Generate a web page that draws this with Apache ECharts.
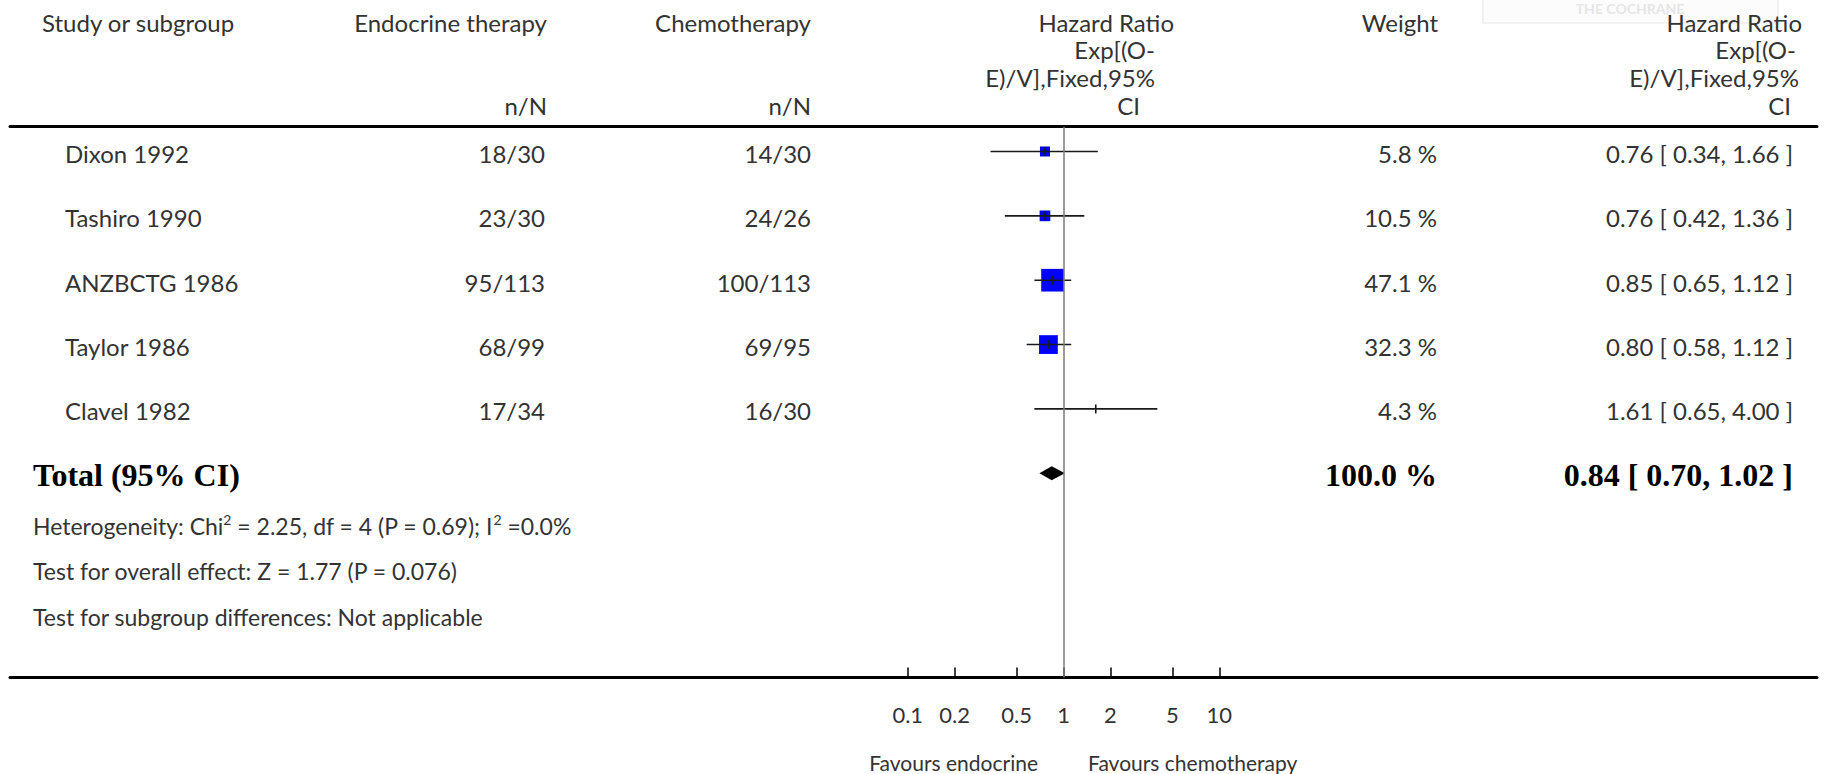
<!DOCTYPE html>
<html>
<head>
<meta charset="utf-8">
<title>Endocrine therapy vs chemotherapy – overall survival</title>
<script src="https://cdn.jsdelivr.net/npm/echarts@6/dist/echarts.min.js"></script>
<style>
  html, body { margin: 0; padding: 0; background: #ffffff; }
  #chart { width: 1824px; height: 774px; }
</style>
</head>
<body>
<div id="chart"></div>
<script>
// ---- Study data ----
const studies        = ['Dixon 1992', 'Tashiro 1990', 'ANZBCTG 1986', 'Taylor 1986', 'Clavel 1982'];
const endocrineEvents = ['18/30', '23/30', '95/113', '68/99', '17/34'];
const chemoEvents     = ['14/30', '24/26', '100/113', '69/95', '16/30'];
const hazardRatio     = [0.76, 0.76, 0.85, 0.80, 1.61];
const ciLower         = [0.34, 0.42, 0.65, 0.58, 0.65];
const ciUpper         = [1.66, 1.36, 1.12, 1.12, 4.00];
const weightPct       = [5.8, 10.5, 47.1, 32.3, 4.3];

// ---- Pooled estimate ----
const totalLabel  = 'Total (95% CI)';
const totalHR     = [0.84];
const totalLower  = [0.70];
const totalUpper  = [1.02];
const totalWeight = [100.0];

// ---- Footnotes ----
const footnotes = [
  'Heterogeneity: Chi{sup|2} = 2.25, df = 4 (P = 0.69); I{sup|2} =0.0%',
  'Test for overall effect: Z = 1.77 (P = 0.076)',
  'Test for subgroup differences: Not applicable'
];

// ---- Axis ticks (hazard ratio, log scale) ----
const tickValues = [0.1, 0.2, 0.5, 1, 2, 5, 10];
const tickLabels = ['0.1', '0.2', '0.5', '1', '2', '5', '10'];
const favourLabels = ['Favours endocrine', 'Favours chemotherapy'];

// ---- Styling / layout ----
const SANS = 'Lato, "Open Sans", sans-serif';
const SERIF = '"Liberation Serif", "DejaVu Serif", serif';
const TEXT = '#333333';
const COL = { study: 65, total: 33, endo: 545, chemo: 811, weight: 1437, ci: 1793 };
const ROW_TEXT_DY = 2;

const lg = v => Math.log10(v);
const fmt2 = v => v.toFixed(2);
const ciText = (hr, lo, hi) => fmt2(hr) + ' [ ' + fmt2(lo) + ', ' + fmt2(hi) + ' ]';

const chart = echarts.init(document.getElementById('chart'), null, { renderer: 'svg' });

// per-study forest mark: CI whisker, weight box, point tick
function renderStudy(params, api) {
  const yv = api.value(1);
  const c = api.coord([api.value(0), yv]);
  const l = api.coord([api.value(2), yv]);
  const h = api.coord([api.value(3), yv]);
  const w = api.value(4);
  const y = c[1];
  const children = [];
  if (w >= 5) {
    const s = Math.max(10, 3.3 * Math.sqrt(w));
    children.push({ type: 'rect', shape: { x: c[0] - s / 2, y: y - s / 2, width: s, height: s },
      style: { fill: '#0000ff' } });
  }
  children.push({ type: 'line', shape: { x1: l[0], y1: y, x2: h[0], y2: y },
    style: { stroke: '#1a1a1a', lineWidth: 1.6 } });
  children.push({ type: 'line', shape: { x1: c[0], y1: y - 4.5, x2: c[0], y2: y + 4.5 },
    style: { stroke: '#1a1a1a', lineWidth: 1.6 } });
  return { type: 'group', children };
}

// pooled diamond
function renderTotal(params, api) {
  const yv = api.value(1);
  const c = api.coord([api.value(0), yv]);
  const l = api.coord([api.value(2), yv]);
  const h = api.coord([api.value(3), yv]);
  const y = c[1];
  return { type: 'polygon',
    shape: { points: [[l[0], y], [c[0], y - 7], [h[0], y], [c[0], y + 7]] },
    style: { fill: '#000000' } };
}

function txt(x, y, text, align, font) {
  return { type: 'text', x, y,
    style: Object.assign({ text, align, verticalAlign: 'middle', fill: TEXT,
      fontFamily: SANS, fontSize: 24 }, font || {}) };
}

// table columns for study rows
function renderStudyText(params, api) {
  const i = params.dataIndex;
  const y = api.coord([0, api.value(1)])[1] + ROW_TEXT_DY;
  return { type: 'group', children: [
    txt(COL.study, y, studies[i], 'left'),
    txt(COL.endo, y, endocrineEvents[i], 'right'),
    txt(COL.chemo, y, chemoEvents[i], 'right'),
    txt(COL.weight, y, weightPct[i].toFixed(1) + ' %', 'right'),
    txt(COL.ci, y, ciText(hazardRatio[i], ciLower[i], ciUpper[i]), 'right')
  ] };
}

function renderTotalText(params, api) {
  const i = params.dataIndex;
  const y = api.coord([0, api.value(1)])[1] + ROW_TEXT_DY;
  const bold = { fontFamily: SERIF, fontWeight: 'bold', fontSize: 32, fill: '#000000' };
  return { type: 'group', children: [
    txt(COL.total, y, totalLabel, 'left', bold),
    txt(COL.weight, y, totalWeight[i].toFixed(1) + ' %', 'right', bold),
    txt(COL.ci, y, ciText(totalHR[i], totalLower[i], totalUpper[i]), 'right', bold)
  ] };
}

const studyData = studies.map((s, i) => [lg(hazardRatio[i]), i, lg(ciLower[i]), lg(ciUpper[i]), weightPct[i]]);
const totalRow = studies.length;
const totalData = totalHR.map((v, i) => [lg(v), totalRow + i, lg(totalLower[i]), lg(totalUpper[i])]);

const X_MIN = -6.762, X_MAX = 4.836;
const tickPos = tickValues.map(lg);
const tickFormatter = v => {
  const k = tickPos.findIndex(p => Math.abs(p - v) < 1e-6);
  return k >= 0 ? tickLabels[k] : '';
};

const headerFont = { fill: TEXT, fontFamily: SANS, fontSize: 24 };
function headerText(x, y, text, align) {
  return { type: 'text', x, y, style: Object.assign({ text, align, verticalAlign: 'middle' }, headerFont) };
}

const graphics = [
  // faint publisher mark in the top-right corner
  { type: 'rect', shape: { x: 1483, y: -12, width: 295, height: 35 },
    style: { fill: 'rgba(0,0,0,0.012)', stroke: '#eeeeee', lineWidth: 1.5 } },
  { type: 'text', x: 1630, y: 8, style: { text: 'THE COCHRANE', align: 'center', verticalAlign: 'middle',
    fill: '#e6e6e6', fontFamily: SANS, fontWeight: 'bold', fontSize: 14 } },

  headerText(42, 22, 'Study or subgroup', 'left'),
  headerText(547, 22, 'Endocrine therapy', 'right'),
  headerText(547, 105, 'n/N', 'right'),
  headerText(811, 22, 'Chemotherapy', 'right'),
  headerText(811, 105, 'n/N', 'right'),
  headerText(1174, 22, 'Hazard Ratio', 'right'),
  headerText(1155, 49.5, 'Exp[(O-', 'right'),
  headerText(1155, 77, 'E)/V],Fixed,95%', 'right'),
  headerText(1140, 105, 'CI', 'right'),
  headerText(1438, 22, 'Weight', 'right'),
  headerText(1802, 22, 'Hazard Ratio', 'right'),
  headerText(1796, 49.5, 'Exp[(O-', 'right'),
  headerText(1799, 77, 'E)/V],Fixed,95%', 'right'),
  headerText(1791, 105, 'CI', 'right'),

  { type: 'text', x: 1038, y: 762, style: { text: favourLabels[0], align: 'right', verticalAlign: 'middle',
    fill: TEXT, fontFamily: SANS, fontSize: 21 } },
  { type: 'text', x: 1088, y: 762, style: { text: favourLabels[1], align: 'left', verticalAlign: 'middle',
    fill: TEXT, fontFamily: SANS, fontSize: 21 } }
];
const footY = [526, 571, 617];
footnotes.forEach((t, k) => {
  graphics.push({ type: 'text', x: 33, y: footY[k], style: {
    text: t, align: 'left', verticalAlign: 'middle', fill: TEXT, fontFamily: SANS, fontSize: 23,
    rich: { sup: { fontSize: 14, fill: TEXT, fontFamily: SANS, verticalAlign: 'top', lineHeight: 28 } }
  } });
});

const option = {
  backgroundColor: '#ffffff',
  animation: false,
  grid: { left: 10, right: 7, top: 126.7, bottom: 96.5, containLabel: false, outerBoundsMode: 'none' },
  xAxis: [
    {
      type: 'value', position: 'bottom', min: X_MIN, max: X_MAX,
      axisLine: { show: true, onZero: false, lineStyle: { color: '#000000', width: 3 } },
      axisTick: { show: true, inside: true, length: 10, customValues: tickPos,
        lineStyle: { color: '#000000', width: 1.5 } },
      axisLabel: { show: true, customValues: tickPos, formatter: tickFormatter, margin: 26,
        color: TEXT, fontFamily: SANS, fontSize: 22 },
      splitLine: { show: false }
    },
    {
      type: 'value', position: 'top', min: X_MIN, max: X_MAX,
      axisLine: { show: true, onZero: false, lineStyle: { color: '#000000', width: 3 } },
      axisTick: { show: false }, axisLabel: { show: false }, splitLine: { show: false }
    }
  ],
  yAxis: {
    type: 'value', inverse: true, min: -0.385, max: 8.173, show: false,
    splitLine: { show: false }
  },
  graphic: graphics,
  series: [
    {
      name: 'Studies', type: 'custom', data: studyData, renderItem: renderStudy,
      encode: { x: 0, y: 1 }, z: 3,
      markLine: {
        silent: true, symbol: 'none', label: { show: false },
        lineStyle: { color: '#7a7a7a', width: 1.5, type: 'solid' },
        data: [{ xAxis: 0 }]
      }
    },
    { name: 'Total', type: 'custom', data: totalData, renderItem: renderTotal, encode: { x: 0, y: 1 }, z: 3 },
    { name: 'Study table', type: 'custom', data: studyData, renderItem: renderStudyText, encode: { x: 0, y: 1 }, z: 2 },
    { name: 'Total table', type: 'custom', data: totalData, renderItem: renderTotalText, encode: { x: 0, y: 1 }, z: 2 }
  ]
};

chart.setOption(option);
</script>
</body>
</html>
